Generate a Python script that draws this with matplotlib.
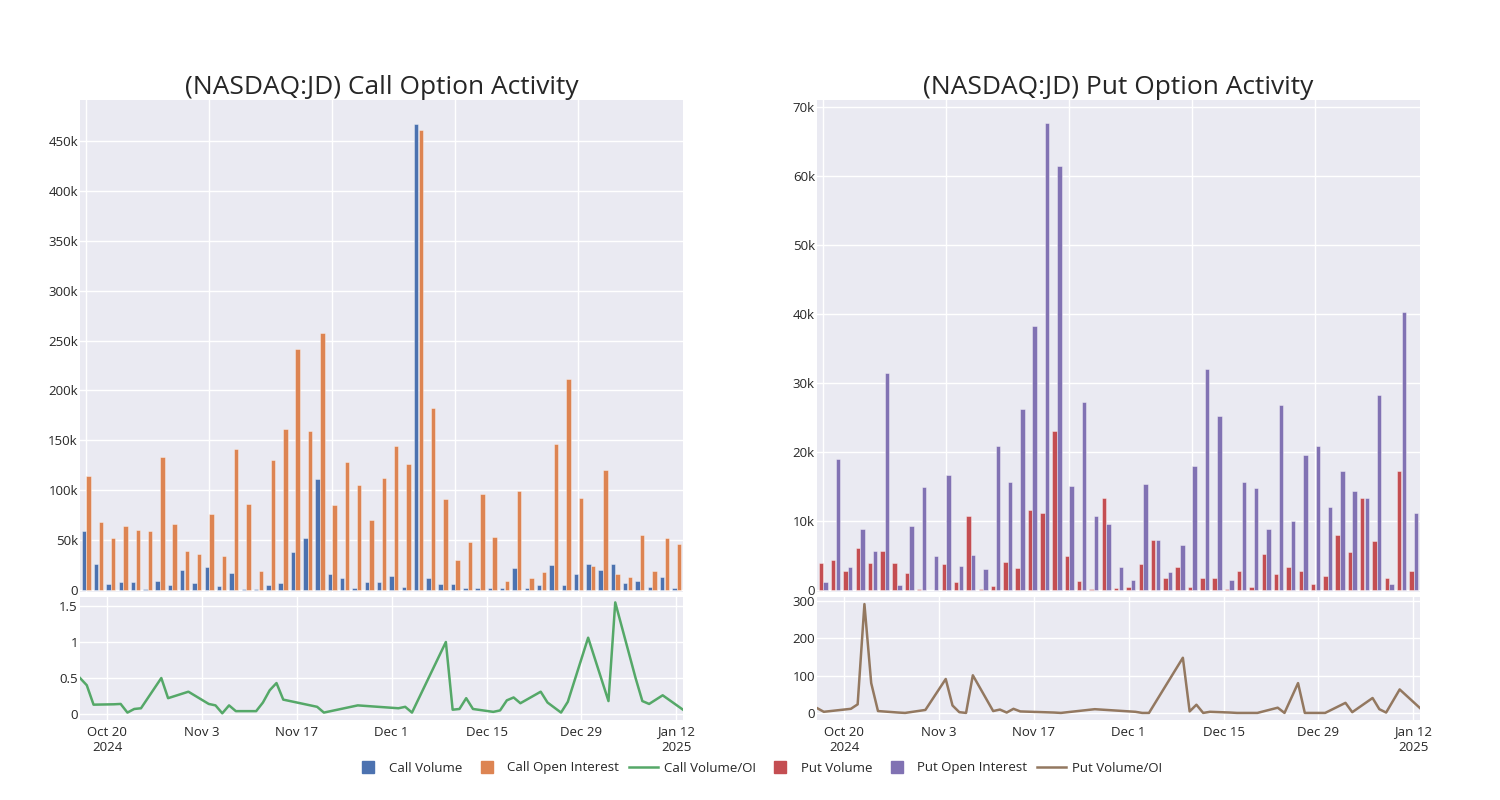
import matplotlib
matplotlib.use('Agg')
import matplotlib.pyplot as plt
import matplotlib.dates as mdates
from matplotlib.lines import Line2D
from matplotlib.ticker import FuncFormatter, MultipleLocator, FixedLocator
import numpy as np
import pandas as pd

dates = ['2024-10-16', '2024-10-17', '2024-10-18', '2024-10-21', '2024-10-22', '2024-10-23',
         '2024-10-24', '2024-10-25', '2024-10-28', '2024-10-29', '2024-11-01', '2024-11-04',
         '2024-11-05', '2024-11-06', '2024-11-07', '2024-11-08', '2024-11-11', '2024-11-12',
         '2024-11-13', '2024-11-14', '2024-11-15', '2024-11-20', '2024-11-21', '2024-11-26',
         '2024-12-02', '2024-12-03', '2024-12-04', '2024-12-09', '2024-12-10', '2024-12-11',
         '2024-12-12', '2024-12-13', '2024-12-16', '2024-12-17', '2024-12-18', '2024-12-19',
         '2024-12-20', '2024-12-23', '2024-12-24', '2024-12-26', '2024-12-27', '2024-12-30',
         '2025-01-02', '2025-01-03', '2025-01-06', '2025-01-07', '2025-01-08', '2025-01-10',
         '2025-01-13']

call_volume = [59000, 26400, 6300, 8300, 8000, 700, 9000, 5000, 19700, 7300,
               23400, 4000, 16700, 800, 1300, 5000, 7000, 37800, 51800, 110900,
               15700, 11700, 1700, 8000, 7700, 13700, 2700, 467000, 11700, 6300,
               5700, 2300, 2000, 2000, 1700, 22400, 1800, 5000, 24700, 5300,
               15700, 26400, 20400, 25700, 6700, 9300, 2700, 12700, 1700]
call_oi = [114500, 67800, 52400, 63800, 59800, 59400, 133600, 66400, 39400, 35700,
           76200, 34000, 141000, 85900, 19400, 130000, 161000, 241800, 159000, 257800,
           85200, 128000, 104900, 70500, 112000, 144000, 126000, 461000, 182000, 90800,
           29700, 47700, 96100, 53000, 9000, 99000, 12400, 17700, 146300, 211700,
           91900, 24400, 120000, 16000, 13400, 55400, 19400, 51800, 46100]
call_ratio = [0.5, 0.4, 0.13, 0.135, 0.14, 0.02, 0.07, 0.08, 0.5, 0.22,
              0.31, 0.14, 0.12, 0.01, 0.12, 0.04, 0.04, 0.16, 0.33, 0.43,
              0.2, 0.1, 0.02, 0.12, 0.08, 0.1, 0.02, 1.0, 0.06, 0.07,
              0.22, 0.07, 0.03, 0.05, 0.19, 0.23, 0.15, 0.31, 0.16, 0.02,
              0.17, 1.06, 0.18, 1.55, 0.5, 0.18, 0.14, 0.26, 0.06]

put_volume = [3900, 4400, 2700, 6100, 3900, 5700, 3900, 2500, 100, 50,
              3800, 1200, 10700, 100, 600, 4100, 3200, 11600, 11100, 23000,
              4900, 1300, 200, 13400, 300, 500, 3700, 7300, 1700, 3300,
              400, 1800, 1700, 200, 2700, 500, 5200, 2300, 3400, 2700,
              900, 2100, 8000, 5500, 13300, 7100, 1700, 17200, 2800]
put_oi = [1100, 19000, 3300, 8900, 5600, 31500, 700, 9300, 14900, 4900,
          16600, 3500, 5100, 3000, 20800, 15700, 26200, 38200, 67700, 61400,
          15000, 27200, 10700, 9600, 3400, 1400, 15400, 7200, 2600, 6500,
          18000, 32000, 25200, 1400, 15700, 14800, 8900, 26800, 10000, 19500,
          20800, 12000, 17300, 14400, 13400, 28300, 900, 40300, 11100]
put_ratio = [13, 3, 5, 11, 23, 292, 80, 5, 1, 0,
             8, 91, 20, 2, 0, 101, 5, 9, 1, 11,
             4, 1, 0, 10, 3, 0, 0, 148, 4, 22,
             0, 3, 1, 0, 0, 0, 0, 14, 0, 80,
             0, 0, 27, 2, 40, 10, 1, 63, 13]

date_ticks = ['2024-10-20', '2024-11-03', '2024-11-17', '2024-12-01', '2024-12-15',
              '2024-12-29', '2025-01-12']
date_tick_labels = ['Oct 20\n2024', 'Nov 3', 'Nov 17', 'Dec 1', 'Dec 15', 'Dec 29', 'Jan 12\n2025']

plt.rcParams['font.family'] = ['Open Sans', 'DejaVu Sans']

BG = '#EAEAF2'
TXT = '#262626'
C_BLUE, C_ORANGE, C_GREEN = '#4C72B0', '#DD8452', '#55A868'
C_RED, C_PURPLE, C_BROWN = '#C44E52', '#8172B3', '#937860'

W, H = 1500, 800
fig = plt.figure(figsize=(15, 8), dpi=100)


def rect(x0, y0, x1, y1):
    return [x0 / W, 1 - y1 / H, (x1 - x0) / W, (y1 - y0) / H]


def style(ax):
    ax.set_facecolor(BG)
    for s in ax.spines.values():
        s.set_visible(False)
    ax.grid(True, color='white', linewidth=1.0)
    ax.set_axisbelow(True)
    ax.tick_params(length=0, labelsize=9.5, labelcolor=TXT)
    ax.tick_params(axis='y', pad=1.5)
    ax.tick_params(axis='x', pad=4)


kfmt = FuncFormatter(lambda v, p: '0' if v == 0 else f'{int(round(v / 1000))}k')
dts = pd.to_datetime(dates)
xlim_dates = (pd.Timestamp(dates[0]), pd.Timestamp(dates[-1]))


def bar_panel(box, vol, oi, c1, c2, ylim, ystep, title):
    ax = fig.add_axes(rect(*box))
    style(ax)
    x = np.arange(len(vol))
    ax.bar(x - 0.19, vol, width=0.36, color=c1, edgecolor=(1, 1, 1, 0.45), linewidth=0.6)
    ax.bar(x + 0.19, oi, width=0.36, color=c2, edgecolor=(1, 1, 1, 0.45), linewidth=0.6)
    ax.set_xlim(-0.5, len(vol) - 0.5)
    ax.set_ylim(*ylim)
    ax.xaxis.set_major_locator(FixedLocator([0, 10, 20, 30, 40]))
    ax.set_xticklabels([])
    ax.yaxis.set_major_locator(MultipleLocator(ystep))
    ax.yaxis.set_major_formatter(kfmt)
    ax.set_title(title, fontsize=19, color=TXT, pad=3)
    return ax


def line_panel(box, vals, color, ylim, yticks, ylabels):
    ax = fig.add_axes(rect(*box))
    style(ax)
    ax.plot(dts, vals, color=color, linewidth=1.8)
    ax.set_xlim(*xlim_dates)
    ax.set_ylim(*ylim)
    ax.xaxis.set_major_locator(FixedLocator([mdates.date2num(pd.Timestamp(d)) for d in date_ticks]))
    ax.set_xticklabels(date_tick_labels)
    ax.set_yticks(yticks)
    ax.set_yticklabels(ylabels)
    return ax


bar_panel((80, 100, 683, 592), call_volume, call_oi, C_BLUE, C_ORANGE,
          (-2000, 491000), 50000, '(NASDAQ:JD) Call Option Activity')
line_panel((80, 597, 683, 720), call_ratio, C_GREEN, (-0.083, 1.625),
           [0, 0.5, 1, 1.5], ['0', '0.5', '1', '1.5'])

bar_panel((817, 100, 1420, 592), put_volume, put_oi, C_RED, C_PURPLE,
          (-290, 71000), 10000, '(NASDAQ:JD) Put Option Activity')
line_panel((817, 597, 1420, 720), put_ratio, C_BROWN, (-19, 311),
           [0, 100, 200, 300], ['0', '100', '200', '300'])

handles = [
    Line2D([], [], linestyle='none', marker='s', markersize=9, color=C_BLUE),
    Line2D([], [], linestyle='none', marker='s', markersize=9, color=C_ORANGE),
    Line2D([], [], color=C_GREEN, linewidth=1.8),
    Line2D([], [], linestyle='none', marker='s', markersize=9, color=C_RED),
    Line2D([], [], linestyle='none', marker='s', markersize=9, color=C_PURPLE),
    Line2D([], [], color=C_BROWN, linewidth=1.8),
]
labels = ['Call Volume', 'Call Open Interest', 'Call Volume/OI',
          'Put Volume', 'Put Open Interest', 'Put Volume/OI']
fig.legend(handles, labels, loc='center', bbox_to_anchor=(758 / W, 1 - 768 / H), ncol=6,
           frameon=False, fontsize=9.5, handlelength=2.2, handletextpad=0.45,
           columnspacing=0.75, labelcolor=TXT)

fig.savefig('out.png', dpi=100, facecolor='white')
